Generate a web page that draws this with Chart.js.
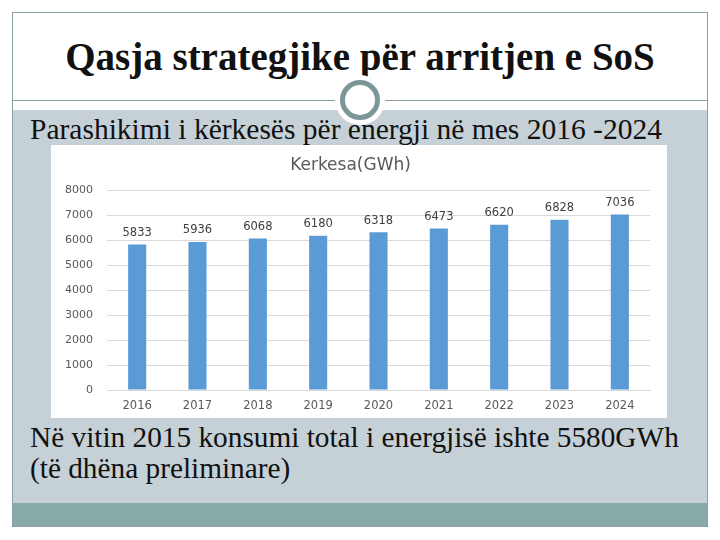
<!DOCTYPE html>
<html>
<head>
<meta charset="utf-8">
<script src="https://cdn.jsdelivr.net/npm/chart.js@4"></script>
<style>
body{margin:0;background:#fff;width:720px;height:540px;position:relative;overflow:hidden;font-family:"Liberation Serif",serif;}
.slide{position:absolute;left:12px;top:12px;width:696px;height:515px;border:1px solid #8a9ea3;box-sizing:border-box;}
.line{position:absolute;left:12px;top:100px;width:696px;height:1px;background:#8a9ea3;}
.title{position:absolute;left:0;top:35px;width:720px;text-align:center;font-size:39px;line-height:44px;font-weight:bold;color:#111;}
.band{position:absolute;left:13px;top:110px;width:694px;height:393px;background:#c6d1d7;}
.foot{position:absolute;left:13px;top:503px;width:694px;height:23px;background:#87aaa8;}
.halo{position:absolute;left:335px;top:75px;width:50px;height:50px;border-radius:50%;background:#fff;}
.ring{position:absolute;left:340px;top:80px;width:30px;height:30px;border:5px solid #7b9797;border-radius:50%;background:#fff;}
.sub{position:absolute;left:30px;top:112px;font-size:29.5px;line-height:34px;color:#111;}
.box{position:absolute;left:51px;top:145px;width:616px;height:273px;background:#fff;}
.note{position:absolute;left:30px;top:422px;font-size:29.3px;line-height:31px;color:#111;}
</style>
</head>
<body>
<div class="slide"></div>
<div class="line"></div>
<div class="title">Qasja strategjike për arritjen e SoS</div>
<div class="band"></div>
<div class="foot"></div>
<div class="halo"></div>
<div class="ring"></div>
<div class="sub">Parashikimi i kërkesës për energji në mes 2016 -2024</div>
<div class="box"><canvas id="barChart" width="616" height="273"></canvas></div>
<div class="note">Në vitin 2015 konsumi total i energjisë ishte 5580GWh<br>(të dhëna preliminare)</div>
<script>
const years = ['2016','2017','2018','2019','2020','2021','2022','2023','2024'];
const demand = [5833, 5936, 6068, 6180, 6318, 6473, 6620, 6828, 7036];
const yTicks = [0, 1000, 2000, 3000, 4000, 5000, 6000, 7000, 8000];

/* labels above bars */
const barLabels = {
id:'barLabels',
afterDatasetsDraw(chart){
const ctx = chart.ctx;
const meta = chart.getDatasetMeta(0);
ctx.save();
ctx.font = '11.5px "DejaVu Sans", sans-serif';
ctx.fillStyle = '#404040';
ctx.textAlign = 'center';
ctx.textBaseline = 'bottom';
meta.data.forEach((bar,i)=>{
ctx.fillText(demand[i], bar.x, bar.y - 6);
});
ctx.restore();
}
};

new Chart(document.getElementById('barChart'),{
type:'bar',
data:{
labels:years,
datasets:[{
label:'Kerkesa(GWh)',
data:demand,
backgroundColor:'#5b9bd5',
barPercentage:0.3,
categoryPercentage:1
}]
},
options:{
responsive:false,
animation:false,
layout:{padding:{left:0,right:17,top:0,bottom:0}},
plugins:{
legend:{display:false},
tooltip:{enabled:false},
title:{display:true,text:'Kerkesa(GWh)',color:'#595959',
font:{family:'"DejaVu Sans", sans-serif',size:17,weight:'normal'},
padding:{top:10,bottom:15}}
},
scales:{
x:{
afterFit(axis){axis.height = 28;},
grid:{display:false},
border:{color:'#d9d9d9'},
ticks:{color:'#595959',font:{family:'"DejaVu Sans", sans-serif',size:11.5},padding:1}
},
y:{
min:0,max:8000,
afterBuildTicks(axis){axis.ticks = yTicks.map(v=>({value:v}));},
afterFit(axis){axis.width = 56;},
grid:{color:'#d9d9d9',drawTicks:false},
border:{display:false},
ticks:{color:'#595959',font:{family:'"DejaVu Sans", sans-serif',size:11},padding:14,
callback:v=>String(v)}
}
}
},
plugins:[barLabels]
});
</script>
</body>
</html>
